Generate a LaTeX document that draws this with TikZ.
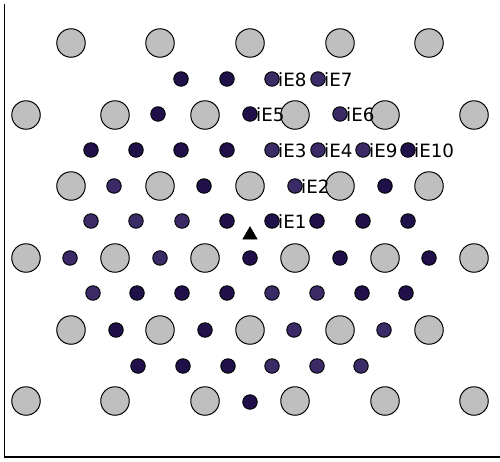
\documentclass[tikz,border=0pt]{standalone}
\usepackage{fontspec}
\setmainfont{DejaVu Sans}
\usetikzlibrary{shapes.geometric}
\definecolor{darkdot}{RGB}{31,16,74}
\definecolor{lightdot}{RGB}{58,43,102}
\definecolor{graycirc}{RGB}{191,191,191}
\tikzset{
  big/.style={circle,draw=black,fill=graycirc,line width=1pt,minimum size=28.5pt,inner sep=0pt},
  dd/.style={circle,draw=black,fill=darkdot,line width=0.9pt,minimum size=14.5pt,inner sep=0pt},
  ld/.style={circle,draw=black,fill=lightdot,line width=0.9pt,minimum size=14.5pt,inner sep=0pt},
  lab/.style={anchor=base west,inner sep=0pt,font=\fontsize{18.3}{21}\selectfont,text=black},
  axisline/.style={line width=1.3pt,black}
}
\begin{document}
\begin{tikzpicture}[x=1pt,y=-1pt]
\useasboundingbox (0,0) rectangle (500,461);
\coordinate (ytop) at (4.5,4);
\coordinate (orig) at (4.5,457);
\coordinate (xend) at (500,457);
\draw[axisline] (ytop) -- (orig) -- (xend);
% big gray circles
\foreach \y [count=\r] in {43,186,330}{
  \foreach \x [count=\c] in {71,160,250,340,429}{
    \node[big] (ga\r\c) at (\x,\y) {};
  }
}
\foreach \y [count=\r] in {115,258,401}{
  \foreach \x [count=\c] in {26,115,205,295,385,474}{
    \node[big] (gb\r\c) at (\x,\y) {};
  }
}
% small dots
\foreach \x/\y/\s [count=\i] in {
  181/79/dd, 227/79/dd, 272/79/ld, 318/79/ld,
  158/114/dd, 250/114/dd, 340/114/ld,
  91/150/dd, 136/150/dd, 181/150/dd, 227/150/dd, 272/150/ld, 318/150/ld, 363/150/ld, 408/150/dd,
  114/186/ld, 204/186/dd, 295/186/ld, 385/186/dd,
  91/221/ld, 136/221/ld, 182/221/ld, 227/221/dd, 272/221/dd, 317/221/dd, 363/221/dd, 408/221/dd,
  70/258/ld, 160/258/ld, 250/258/dd, 340/258/dd, 429/258/dd,
  93/293/ld, 137/293/dd, 182/293/dd, 227/293/dd, 272/293/ld, 317/293/ld, 362/293/dd, 406/293/dd,
  116/330/dd, 205/330/dd, 294/330/ld, 384/330/ld,
  138/366/dd, 183/366/dd, 228/366/dd, 272/366/ld, 317/366/ld, 361/366/ld,
  250/402/dd}{
  \node[\s] (s\i) at (\x,\y) {};
}
% triangle
\node[isosceles triangle,isosceles triangle apex angle=60,shape border rotate=90,fill=black,draw=black,line width=0.5pt,minimum height=12.5pt,inner sep=0pt] (tri) at (250,235) {};
% labels
\foreach \x/\y/\t in {272/79/iE8, 318/79/iE7, 250/114/iE5, 340/114/iE6,
  272/150/iE3, 318/150/iE4, 363/150/iE9, 408/150/iE10, 295/186/iE2, 272/221/iE1}{
  \node[lab] (l\t) at (\x+6,\y+7) {\t};
}
\end{tikzpicture}
\end{document}
